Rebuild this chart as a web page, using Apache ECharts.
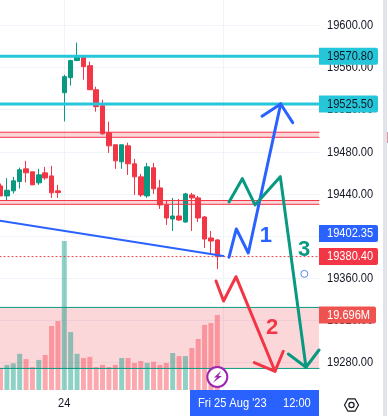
<!DOCTYPE html>
<html>
<head>
<meta charset="utf-8">
<style>
  html, body { margin: 0; padding: 0; background: #fff; }
  #chart { width: 388px; height: 416px; }
</style>
<script src="https://cdn.jsdelivr.net/npm/echarts@6/dist/echarts.min.js"></script>
</head>
<body>
<div id="chart"></div>
<script>
const font = '13.5px "Liberation Sans", Arial, sans-serif'
const squeeze = 0.82 // the platform font is narrower than anything installed
const ink = '#131722'
const teal = '#089981'
const red = '#f23645'
const blue = '#2962ff'
const cyan = '#26c6da'

// open, close, low, high per 30 bar slot
const candles = [
    [19447.6, 19438.1, 19438.1, 19449.8], [19438.1, 19443.5, 19433.3, 19455.0], [19442.9, 19452.4, 19440.3, 19456.2],
    [19451.7, 19462.9, 19445.0, 19465.0], [19463.8, 19460.0, 19450.8, 19471.4], [19461.0, 19448.6, 19448.6, 19461.0],
    [19450.5, 19458.1, 19448.6, 19463.8], [19460.0, 19455.2, 19453.3, 19465.7], [19457.1, 19441.0, 19436.2, 19466.7],
    [19442.9, 19441.2, 19436.2, 19448.6], [19536.2, 19551.4, 19508.9, 19553.3], [19550.5, 19566.7, 19542.9, 19567.6],
    [19566.7, 19570.5, 19566.7, 19583.8], [19570.5, 19561.0, 19548.6, 19571.4], [19561.9, 19539.0, 19539.0, 19565.7],
    [19539.0, 19522.9, 19518.1, 19541.9], [19523.8, 19497.1, 19496.2, 19529.5], [19498.1, 19485.7, 19479.0, 19508.6],
    [19486.7, 19471.4, 19463.8, 19486.7], [19470.5, 19486.7, 19463.8, 19486.7], [19485.7, 19468.6, 19458.1, 19488.6],
    [19468.6, 19456.2, 19439.0, 19473.3], [19456.2, 19439.0, 19437.1, 19459.0], [19438.1, 19465.7, 19436.2, 19469.5],
    [19464.8, 19444.8, 19440.0, 19469.5], [19445.7, 19429.5, 19425.7, 19453.3], [19429.5, 19417.1, 19410.5, 19434.3],
    [19416.2, 19419.0, 19404.8, 19436.2], [19419.0, 19415.2, 19414.3, 19435.2], [19413.3, 19440.0, 19412.4, 19441.0],
    [19439.0, 19436.2, 19404.8, 19441.0], [19436.2, 19417.1, 19413.3, 19438.1], [19418.1, 19397.1, 19388.6, 19419.0],
    [19398.1, 19395.2, 19383.8, 19404.8], [19396.2, 19380.4, 19368.6, 19397.1]
]
// in millions
const volumes = [
    5.8, 6.6, 7.0, 9.5, 8.1, 6.0, 7.9, 9.2, 16.8, 18.1, 39.1, 15.2, 9.5, 8.4, 8.7, 6.0, 6.6, 6.0,
    6.6, 8.4, 8.4, 7.1, 7.6, 7.1, 7.4, 6.6, 7.1, 9.7, 8.9, 8.9, 11.0, 13.4, 17.1, 17.6, 19.696
]

const priceTicks = [19600, 19560, 19520, 19480, 19440, 19400, 19360, 19320, 19280]
const dayTickIndex = 10
const dayTickLabel = '24'
const crosshairIndex = 35
const timeLabelDate = "Fri 25 Aug '23"
const timeLabelHour = '12:00'

const xMin = -0.086
const xMax = 49.95
const priceMin = 19253.6
const priceMax = 19624.3
const volumeMax = 102.4

const resistanceLevels = [19570.8, 19525.5]
const lastPrice = 19380.4
const redZones = [[19498.6, 19493.8], [19433.7, 19430.1]]
const volumeBox = [19332.1, 19274.1]

const trendLine = [[xMin, 19414.5], [34.94, 19381.0]]
const blueWave = [[35.84, 19379.8], [36.98, 19406.7], [38.86, 19383.8], [43.94, 19525.5]]
const blueHead = [[41.01, 19513.8], [43.94, 19525.5], [45.83, 19507.7]]
const redWave = [[33.8, 19357.2], [34.98, 19338.2], [36.93, 19361.3], [43.05, 19271.4]]
const redHead = [[39.8, 19279.6], [43.05, 19271.4], [44.35, 19290.4]]
const greenWave = [[35.84, 19432.3], [37.92, 19454.5], [39.91, 19429.5], [43.88, 19456.4], [47.91, 19275.2]]
const greenHead = [[45.14, 19287.8], [47.91, 19275.2], [xMax, 19291.6]]

const waveLabels = [
    { text: '1', at: [41.6, 19400.0], color: blue },
    { text: '2', at: [42.6, 19313.0], color: red },
    { text: '3', at: [47.6, 19387.0], color: teal }
]
const markerDot = [47.65, 19364.0]

const priceTags = [
    { value: 19570.8, text: '19570.80', bg: cyan, color: ink },
    { value: 19525.5, text: '19525.50', bg: cyan, color: ink },
    { value: 19402.35, text: '19402.35', bg: blue, color: '#fff' },
    { value: 19380.4, text: '19380.40', bg: red, color: '#fff' }
]
const volumeTags = [{ value: 19.696, text: '19.696M', bg: '#ef5350', color: '#fff', width: 57 }]
const tickTags = priceTicks.map(v => ({ value: v, text: v.toFixed(2), color: ink }))

const chart = echarts.init(document.getElementById('chart'))

const polyline = (name, points, color, width, z = 5, type = 'solid') => ({
    name,
    type: 'line',
    data: points,
    symbol: 'none',
    silent: true,
    z,
    lineStyle: { color, width, type, cap: 'round', join: 'round' }
})

const flatLine = (name, price, color, width, z = 4, type = 'solid') =>
    polyline(name, [[xMin, price], [xMax, price]], color, width, z, type)

// right hand price scale labels, the squeezed text needs a custom item
const tagSeries = (name, yAxisIndex, tags, z) => ({
    name,
    type: 'custom',
    yAxisIndex,
    clip: false,
    z,
    data: tags.map(t => [xMax, t.value]),
    renderItem: (params, api) => {
        const tag = tags[params.dataIndex]
        const [x, y] = api.coord([api.value(0), api.value(1)])
        const children = [{
            type: 'text',
            x: x + 8,
            y,
            scaleX: squeeze,
            z2: 2,
            style: { text: tag.text, fill: tag.color, font, verticalAlign: 'middle' }
        }]
        if (tag.bg) {
            children.unshift({
                type: 'rect',
                shape: { x, y: y - 8.5, width: tag.width || 59, height: 17, r: [0, 2, 2, 0] },
                style: { fill: tag.bg }
            })
        }
        return { type: 'group', children }
    }
})

const option = {
    animation: false,
    backgroundColor: '#fff',
    grid: { left: 0, right: 69, top: 0, height: 390 },
    xAxis: {
        type: 'value',
        min: xMin,
        max: xMax,
        axisLine: { show: false },
        axisTick: { show: false, customValues: [dayTickIndex, crosshairIndex] },
        axisLabel: { show: false, customValues: [dayTickIndex] },
        splitLine: { show: true, lineStyle: { color: '#f0f3fa', width: 1 } }
    },
    yAxis: [
        {
            type: 'value',
            position: 'right',
            min: priceMin,
            max: priceMax,
            axisLine: { show: false },
            axisTick: { show: false, customValues: priceTicks },
            axisLabel: { show: false, customValues: priceTicks },
            splitLine: { show: true, lineStyle: { color: '#f0f3fa', width: 1 } }
        },
        {
            type: 'value',
            min: 0,
            max: volumeMax,
            show: false
        }
    ],
    series: [
        {
            name: 'Volume',
            type: 'bar',
            yAxisIndex: 1,
            barWidth: 5,
            z: 1,
            data: volumes.map((v, i) => ({
                value: [i, v],
                itemStyle: {
                    color: candles[i][1] >= candles[i][0] ? 'rgba(8,153,129,0.45)' : 'rgba(247,82,95,0.5)'
                }
            }))
        },
        {
            name: 'Price',
            type: 'candlestick',
            barWidth: 5,
            z: 2,
            encode: { x: 0, y: [1, 2, 3, 4] },
            data: candles.map((c, i) => [i, ...c]),
            itemStyle: { color: teal, color0: red, borderColor: teal, borderColor0: red, borderWidth: 1 }
        },
        {
            name: 'Zones',
            type: 'line',
            data: [],
            z: 3,
            markArea: {
                silent: true,
                itemStyle: { color: 'rgba(242,54,69,0.2)' },
                data: redZones.concat([volumeBox]).map(([a, b]) => [{ yAxis: a }, { yAxis: b }])
            }
        },
        ...redZones.flat().map((p, i) => flatLine('Zone edge ' + i, p, red, 1)),
        ...volumeBox.map((p, i) => flatLine('Box edge ' + i, p, teal, 1)),
        ...resistanceLevels.map((p, i) => flatLine('Level ' + i, p, cyan, 3)),
        flatLine('Last', lastPrice, red, 1, 4, [1, 3]),
        polyline('Trend', trendLine, blue, 2),
        polyline('Blue wave', blueWave, blue, 3),
        polyline('Blue head', blueHead, blue, 3),
        polyline('Red wave', redWave, red, 3),
        polyline('Red head', redHead, red, 3),
        polyline('Green wave', greenWave, teal, 3),
        polyline('Green head', greenHead, teal, 3),
        {
            name: 'Wave labels',
            type: 'scatter',
            symbolSize: 0,
            z: 6,
            itemStyle: { opacity: 1 },
            data: waveLabels.map(w => ({
                value: w.at,
                label: {
                    show: true,
                    position: 'inside',
                    formatter: w.text,
                    color: w.color,
                    fontFamily: 'Liberation Sans',
                    fontWeight: 'bold',
                    fontSize: 22
                }
            }))
        },
        {
            name: 'Marker',
            type: 'scatter',
            z: 6,
            symbolSize: 7,
            data: [markerDot],
            itemStyle: { color: '#fff', borderColor: '#5b87f0', borderWidth: 1, opacity: 1 }
        },
        tagSeries('Price ticks', 0, tickTags, 7),
        tagSeries('Price tags', 0, priceTags, 8),
        tagSeries('Volume tags', 1, volumeTags, 8)
    ],
    graphic: [
        { type: 'text', z: 21, x: 58, y: 403.5, scaleX: squeeze, style: { text: dayTickLabel, fill: ink, font, verticalAlign: 'middle' } },
        // crosshair time label
        { type: 'rect', z: 20, shape: { x: 190, y: 390, width: 129, height: 26 }, style: { fill: blue } },
        { type: 'text', z: 21, x: 198, y: 403.5, scaleX: squeeze, style: { text: timeLabelDate, fill: '#fff', font, verticalAlign: 'middle' } },
        { type: 'text', z: 21, x: 283, y: 403.5, scaleX: squeeze, style: { text: timeLabelHour, fill: '#fff', font, verticalAlign: 'middle' } },
        // alert badge
        { type: 'circle', z: 20, shape: { cx: 217.3, cy: 377, r: 10 }, style: { fill: '#fff', stroke: '#9c27b0', lineWidth: 2 } },
        {
            type: 'polygon', z: 21,
            shape: { points: [[221, 371], [214, 377.5], [217, 377.5], [212.5, 383], [222, 376], [218.5, 376]] },
            style: { fill: '#9c27b0' }
        },
        // settings icon
        {
            type: 'polygon', z: 20,
            shape: { points: [[344.5, 405], [348, 398.8], [355, 398.8], [358.5, 405], [355, 411.2], [348, 411.2]] },
            style: { fill: 'none', stroke: ink, lineWidth: 1.2 }
        },
        { type: 'circle', z: 20, shape: { cx: 351.5, cy: 405, r: 2.6 }, style: { fill: 'none', stroke: ink, lineWidth: 1.2 } },
        // panel divider and the edge of the next pane
        { type: 'rect', z: 20, shape: { x: 383, y: 0, width: 4, height: 416 }, style: { fill: '#e0e3eb' } },
        { type: 'rect', z: 20, shape: { x: 387, y: 132, width: 1, height: 11 }, style: { fill: '#f28b94' } }
    ]
}

chart.setOption(option)
</script>
</body>
</html>
